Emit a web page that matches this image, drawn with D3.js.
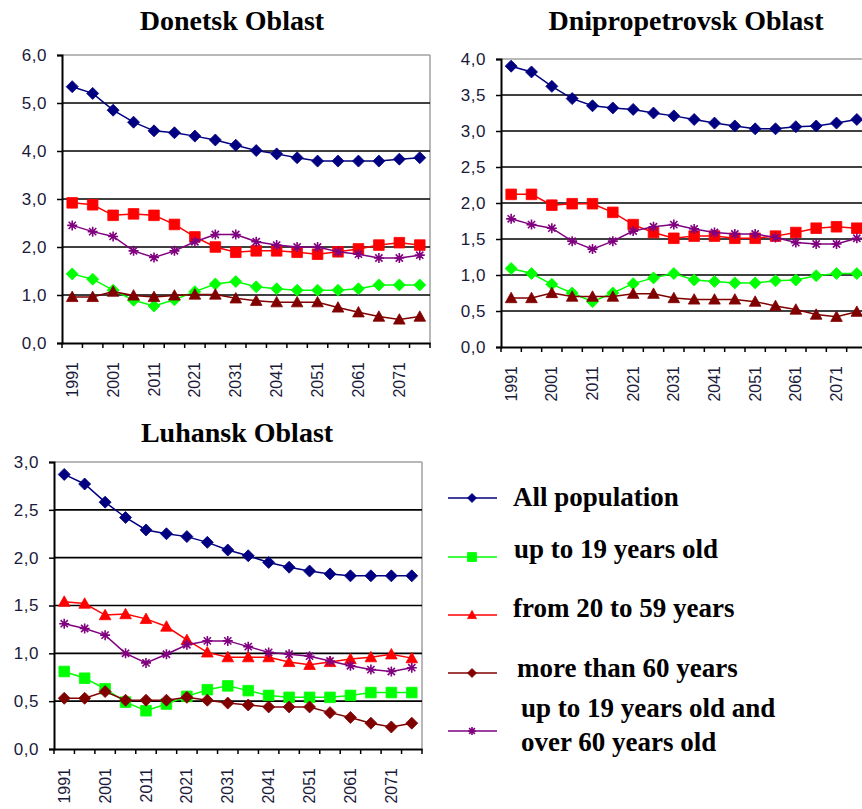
<!DOCTYPE html>
<html>
<head>
<meta charset="utf-8">
<script src="https://cdnjs.cloudflare.com/ajax/libs/d3/7.8.5/d3.min.js"></script>
<style>
  body { margin: 0; background: #fff; }
  .title, .legend text { font-family: "Liberation Serif", "Times New Roman", serif; font-weight: bold; fill: #000; }
  .title { font-size: 28px; }
  .legend text { font-size: 27px; }
  .axis text { font-family: "Liberation Sans", Arial, sans-serif; font-size: 16px; fill: #1a1a3a; }
  .yaxis text { font-size: 17px; letter-spacing: 0.5px; }
</style>
</head>
<body>
<div id="chart"></div>
<script>
// categories (every 5 years)
var years = ["1991","1996","2001","2006","2011","2016","2021","2026","2031","2036",
             "2041","2046","2051","2056","2061","2066","2071","2076"];

var seriesNames = ["All population", "up to 19 years old", "from 20 to 59 years",
                   "more than 60 years", "up to 19 years old and over 60 years old"];

// Donetsk Oblast
var donetskAll    = [5.34, 5.20, 4.85, 4.60, 4.42, 4.38, 4.31, 4.23, 4.12, 4.01, 3.94, 3.86, 3.79, 3.79, 3.79, 3.79, 3.83, 3.86];
var donetskUp19   = [1.44, 1.33, 1.10, 0.89, 0.77, 0.90, 1.07, 1.23, 1.28, 1.17, 1.13, 1.10, 1.10, 1.10, 1.13, 1.21, 1.21, 1.21];
var donetsk2059   = [2.92, 2.88, 2.66, 2.69, 2.66, 2.47, 2.21, 2.00, 1.89, 1.92, 1.92, 1.89, 1.85, 1.90, 1.96, 2.04, 2.09, 2.04];
var donetskOver60 = [0.96, 0.96, 1.07, 0.99, 0.96, 0.99, 1.01, 1.01, 0.93, 0.88, 0.85, 0.85, 0.85, 0.74, 0.64, 0.55, 0.49, 0.55];
var donetskDep    = [2.45, 2.32, 2.22, 1.92, 1.78, 1.92, 2.11, 2.26, 2.26, 2.11, 2.04, 2.00, 2.00, 1.90, 1.85, 1.77, 1.77, 1.83];

// Dnipropetrovsk Oblast
var dniproAll    = [3.90, 3.82, 3.62, 3.45, 3.35, 3.32, 3.30, 3.25, 3.21, 3.16, 3.11, 3.07, 3.03, 3.03, 3.06, 3.07, 3.11, 3.16];
var dniproUp19   = [1.09, 1.02, 0.87, 0.75, 0.63, 0.75, 0.88, 0.96, 1.02, 0.93, 0.91, 0.89, 0.89, 0.92, 0.93, 0.99, 1.02, 1.02];
var dnipro2059   = [2.12, 2.12, 1.97, 1.99, 1.99, 1.87, 1.70, 1.59, 1.51, 1.54, 1.54, 1.51, 1.51, 1.54, 1.59, 1.65, 1.67, 1.65];
var dniproOver60 = [0.68, 0.68, 0.75, 0.70, 0.70, 0.70, 0.74, 0.74, 0.68, 0.66, 0.66, 0.66, 0.63, 0.57, 0.52, 0.45, 0.42, 0.49];
var dniproDep    = [1.78, 1.70, 1.65, 1.47, 1.36, 1.47, 1.61, 1.67, 1.70, 1.64, 1.59, 1.57, 1.57, 1.52, 1.45, 1.43, 1.43, 1.51];

// Luhansk Oblast
var luhanskAll    = [2.87, 2.77, 2.58, 2.42, 2.29, 2.25, 2.22, 2.16, 2.08, 2.02, 1.95, 1.90, 1.86, 1.83, 1.81, 1.81, 1.81, 1.81];
var luhanskUp19   = [0.81, 0.74, 0.63, 0.49, 0.40, 0.47, 0.55, 0.62, 0.66, 0.61, 0.56, 0.54, 0.54, 0.54, 0.56, 0.59, 0.59, 0.59];
var luhansk2059   = [1.54, 1.52, 1.40, 1.41, 1.36, 1.28, 1.14, 1.01, 0.96, 0.96, 0.96, 0.91, 0.88, 0.91, 0.94, 0.96, 0.99, 0.95];
var luhanskOver60 = [0.53, 0.53, 0.60, 0.51, 0.51, 0.51, 0.54, 0.51, 0.48, 0.46, 0.44, 0.44, 0.44, 0.38, 0.33, 0.27, 0.23, 0.27];
var luhanskDep    = [1.31, 1.26, 1.19, 1.00, 0.90, 0.99, 1.09, 1.13, 1.13, 1.07, 1.01, 0.99, 0.97, 0.92, 0.87, 0.83, 0.81, 0.85];

var colors = ["#000080", "#00ff00", "#ff0000", "#800000", "#800080"];

// marker shapes, r = half size
function markerPath(type, r) {
  if (type === "diamond") return "M0," + (-r) + "L" + r + ",0L0," + r + "L" + (-r) + ",0Z";
  if (type === "square") return "M" + (-r) + "," + (-r) + "h" + (2*r) + "v" + (2*r) + "h" + (-2*r) + "Z";
  if (type === "triangle") return "M0," + (-r) + "L" + r + "," + (r*0.8) + "L" + (-r) + "," + (r*0.8) + "Z";
  // asterisk
  var a = r * 0.72;
  return "M0," + (-r) + "V" + r + "M" + (-r) + ",0H" + r +
         "M" + (-a) + "," + (-a) + "L" + a + "," + a + "M" + (-a) + "," + a + "L" + a + "," + (-a);
}

function drawMarker(g, type, r, color) {
  var p = g.append("path").attr("d", markerPath(type, r));
  if (type === "asterisk") p.attr("fill", "none").attr("stroke", color).attr("stroke-width", 1.6);
  else p.attr("fill", color).attr("stroke", color).attr("stroke-width", 0.8);
}

var svgWidth = 862, svgHeight = 809;
var svg = d3.select("#chart").append("svg")
  .attr("width", svgWidth)
  .attr("height", svgHeight);

var panels = [
  { title: "Donetsk Oblast", titleX: 232, titleY: 30, left: 62, top: 55, width: 368, height: 288,
    yMax: 6, yStep: 1, rightBorder: true,
    data: [donetskAll, donetskUp19, donetsk2059, donetskOver60, donetskDep],
    markers: ["diamond", "diamond", "square", "triangle", "asterisk"] },
  { title: "Dnipropetrovsk Oblast", titleX: 686, titleY: 30, left: 501, top: 59, width: 366, height: 288,
    yMax: 4, yStep: 0.5, rightBorder: false,
    data: [dniproAll, dniproUp19, dnipro2059, dniproOver60, dniproDep],
    markers: ["diamond", "diamond", "square", "triangle", "asterisk"] },
  { title: "Luhansk Oblast", titleX: 237, titleY: 442, left: 54, top: 462, width: 368, height: 287,
    yMax: 3, yStep: 0.5, rightBorder: true,
    data: [luhanskAll, luhanskUp19, luhansk2059, luhanskOver60, luhanskDep],
    markers: ["diamond", "square", "triangle", "diamond", "asterisk"] }
];

panels.forEach(function(p) {
  svg.append("text")
    .attr("class", "title")
    .attr("x", p.titleX)
    .attr("y", p.titleY)
    .attr("text-anchor", "middle")
    .text(p.title);

  var g = svg.append("g").attr("transform", "translate(" + p.left + "," + p.top + ")");

  var x = d3.scaleBand().domain(years).range([0, p.width]).padding(0);
  var y = d3.scaleLinear().domain([0, p.yMax]).range([p.height, 0]);

  var yTicks = d3.range(0, p.yMax + 0.001, p.yStep);

  // plot area border (top / right), gray
  g.append("line").attr("x1", 0).attr("x2", p.width).attr("y1", 0).attr("y2", 0)
    .attr("stroke", "#a0a0a0").attr("stroke-width", 1.5);
  if (p.rightBorder) {
    g.append("line").attr("x1", p.width).attr("x2", p.width).attr("y1", 0).attr("y2", p.height)
      .attr("stroke", "#a0a0a0").attr("stroke-width", 1.5);
  }

  // gridlines
  g.selectAll(".grid")
    .data(yTicks.filter(function(d) { return d > 0 && d < p.yMax - 0.001; }))
    .enter().append("line")
    .attr("class", "grid")
    .attr("x1", 0).attr("x2", p.width)
    .attr("y1", function(d) { return y(d); })
    .attr("y2", function(d) { return y(d); })
    .attr("stroke", "#000").attr("stroke-width", 1.6);

  // y axis
  var yAxis = g.append("g").attr("class", "axis yaxis")
    .call(d3.axisLeft(y).tickValues(yTicks).tickSize(5).tickPadding(10)
      .tickFormat(function(d) { return d.toFixed(1).replace(".", ","); }));
  yAxis.select(".domain").attr("stroke", "#000").attr("stroke-width", 2);
  yAxis.selectAll(".tick line").attr("stroke", "#000").attr("stroke-width", 1.5);

  // x axis
  var xAxis = g.append("g").attr("class", "axis")
    .attr("transform", "translate(0," + p.height + ")")
    .call(d3.axisBottom(x).tickSize(0).tickSizeOuter(0)
      .tickValues(years.filter(function(d, i) { return i % 2 === 0; })));
  xAxis.select(".domain").attr("stroke", "#000").attr("stroke-width", 2);
  xAxis.selectAll("text")
    .attr("transform", "rotate(-90)")
    .attr("x", -19)
    .attr("y", 0)
    .attr("dy", "0.35em")
    .style("text-anchor", "end");
  // tick marks between categories
  xAxis.selectAll(".cat-tick")
    .data(years.concat(["end"]))
    .enter().append("line")
    .attr("class", "cat-tick")
    .attr("x1", function(d) { return d === "end" ? p.width : x(d); })
    .attr("x2", function(d) { return d === "end" ? p.width : x(d); })
    .attr("y1", 0).attr("y2", 5)
    .attr("stroke", "#000").attr("stroke-width", 1.5);

  // series
  var line = d3.line()
    .x(function(d, i) { return x(years[i]) + x.bandwidth() / 2; })
    .y(function(d) { return y(d); });

  p.data.forEach(function(vals, si) {
    g.append("path")
      .datum(vals)
      .attr("fill", "none")
      .attr("stroke", colors[si])
      .attr("stroke-width", 1.5)
      .attr("d", line);

    var m = g.selectAll(".m" + si)
      .data(vals)
      .enter().append("g")
      .attr("class", "m" + si)
      .attr("transform", function(d, i) {
        return "translate(" + (x(years[i]) + x.bandwidth() / 2) + "," + y(d) + ")";
      });
    m.each(function() {
      var type = p.markers[si];
      var r = type === "diamond" ? 6 : type === "square" ? 5.3 : type === "triangle" ? 5.8 : 5;
      drawMarker(d3.select(this), type, r, colors[si]);
    });
  });
});

// legend
var legendMarkers = ["diamond", "square", "triangle", "diamond", "asterisk"];
var legendY = [498, 557, 615, 673, 731];
var legend = svg.append("g").attr("class", "legend");

seriesNames.forEach(function(name, i) {
  var row = legend.append("g").attr("transform", "translate(0," + legendY[i] + ")");
  row.append("line").attr("x1", 448).attr("x2", 497).attr("y1", 0).attr("y2", 0)
    .attr("stroke", colors[i]).attr("stroke-width", 1.5);
  var mg = row.append("g").attr("transform", "translate(472,0)");
  var type = legendMarkers[i];
  drawMarker(mg, type, type === "asterisk" ? 4 : 4.5, colors[i]);
});

var legendText = [
  { t: "All population", x: 513, y: 506 },
  { t: "up to 19 years old", x: 514, y: 558 },
  { t: "from 20 to 59 years", x: 513, y: 617 },
  { t: "more than 60 years", x: 517, y: 677 },
  { t: "up to 19 years old and", x: 521, y: 717 },
  { t: "over 60 years old", x: 521, y: 751 }
];
legend.selectAll("text.lt")
  .data(legendText)
  .enter().append("text")
  .attr("class", "lt")
  .attr("x", function(d) { return d.x; })
  .attr("y", function(d) { return d.y; })
  .text(function(d) { return d.t; });
</script>
</body>
</html>
